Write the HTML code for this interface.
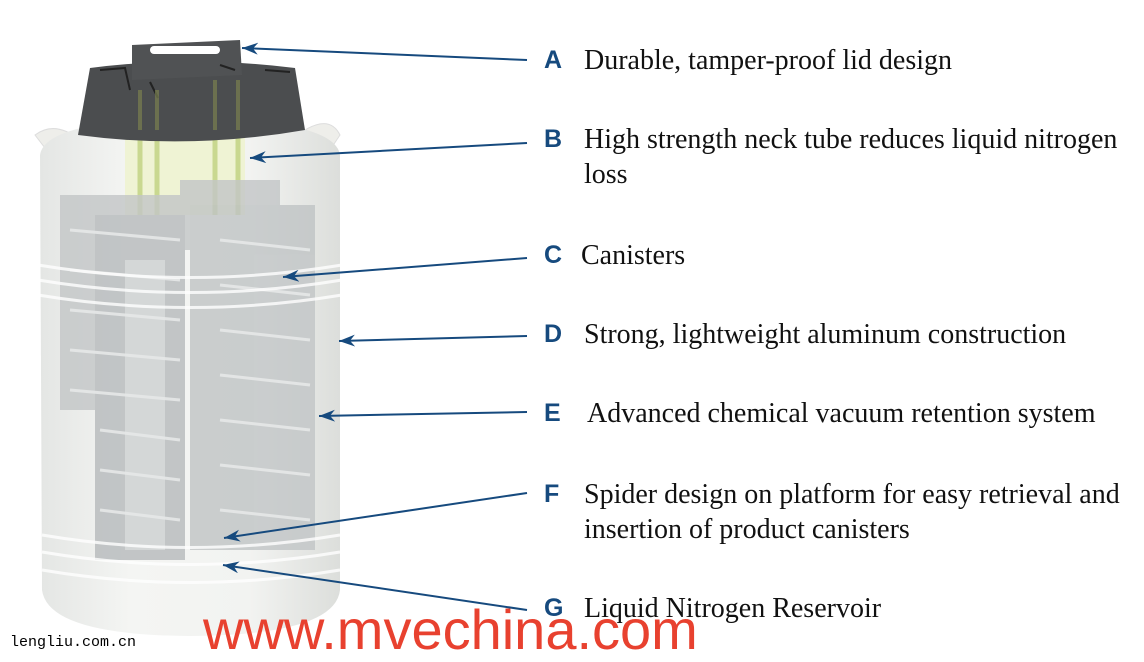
<!DOCTYPE html>
<html><head><meta charset="utf-8"><style>
html,body{margin:0;padding:0;background:#fff;}
body{width:1144px;height:662px;overflow:hidden;position:relative;}
.t{position:absolute;font-family:"Liberation Serif",serif;font-size:28px;color:#111;line-height:35px;white-space:nowrap;}
.l{position:absolute;font-family:"Liberation Sans",sans-serif;font-weight:bold;font-size:25px;color:#164a7e;}
</style></head><body>
<svg width="1144" height="662" style="position:absolute;left:0;top:0">
<defs>
<marker id="ar" markerWidth="16" markerHeight="12" refX="0" refY="6" orient="auto" markerUnits="userSpaceOnUse">
<path d="M0,6 L16,0 L11,6 L16,12 Z" fill="#164a7e"/></marker>
<linearGradient id="body" x1="0" x2="1"><stop offset="0" stop-color="#e4e6e4"/><stop offset="0.3" stop-color="#f4f5f3"/><stop offset="0.7" stop-color="#f2f3f1"/><stop offset="1" stop-color="#dcdedb"/></linearGradient>
</defs>
<path d="M35,135 Q55,120 80,140 L75,155 Q55,140 45,148 Z" fill="#eeeeea" stroke="#ddd"/>
<path d="M305,130 Q330,115 340,135 L330,150 Q320,135 308,142 Z" fill="#eeeeea" stroke="#ddd"/>
<path d="M40,155 Q45,120 190,118 Q335,120 340,155 L340,590 Q335,635 190,636 Q48,635 42,590 Z" fill="url(#body)"/>
<rect x="125" y="120" width="120" height="95" fill="#eef3d0" opacity="0.9"/>
<g stroke="#c9d890" stroke-width="5"><line x1="140" y1="90" x2="140" y2="215"/><line x1="157" y1="90" x2="157" y2="215"/><line x1="215" y1="90" x2="215" y2="215"/><line x1="238" y1="90" x2="238" y2="215"/></g>
<g fill="#c3c6c7" opacity="0.8">
<rect x="60" y="195" width="125" height="215"/>
<rect x="180" y="180" width="100" height="70"/>
<rect x="95" y="215" width="90" height="345" fill="#b6babc"/>
<rect x="190" y="205" width="125" height="345" fill="#c0c4c5"/>
<rect x="125" y="260" width="40" height="290" fill="#cdd0d1"/>
</g>
<g stroke="#e6e8e8" stroke-width="3" opacity="0.9">
<line x1="70" y1="230" x2="180" y2="240"/><line x1="70" y1="270" x2="180" y2="280"/><line x1="70" y1="310" x2="180" y2="320"/><line x1="70" y1="350" x2="180" y2="360"/><line x1="70" y1="390" x2="180" y2="400"/><line x1="100" y1="430" x2="180" y2="440"/><line x1="100" y1="470" x2="180" y2="480"/><line x1="100" y1="510" x2="180" y2="520"/>
<line x1="220" y1="240" x2="310" y2="250"/><line x1="220" y1="285" x2="310" y2="295"/><line x1="220" y1="330" x2="310" y2="340"/><line x1="220" y1="375" x2="310" y2="385"/><line x1="220" y1="420" x2="310" y2="430"/><line x1="220" y1="465" x2="310" y2="475"/><line x1="220" y1="510" x2="310" y2="520"/>
</g>
<g stroke="#ffffff" stroke-width="3" fill="none" opacity="0.8">
<path d="M38,265 Q190,290 342,265"/><path d="M38,280 Q190,305 342,280"/><path d="M38,295 Q190,320 342,295"/>
<path d="M42,535 Q190,560 340,535"/><path d="M42,552 Q190,577 340,552"/><path d="M42,570 Q190,595 340,570"/>
</g>
<path d="M78,135 L90,68 Q190,55 295,68 L305,130 Q190,150 78,135 Z" fill="#4b4d4f"/>
<path d="M132,45 L240,40 L242,75 L132,80 Z" fill="#505254"/>
<rect x="150" y="46" width="70" height="8" rx="4" fill="#fff"/>
<g stroke="#222" stroke-width="2" fill="none"><path d="M100,70 L125,68 L130,90"/><path d="M265,70 L290,72"/><path d="M150,82 L158,98"/><path d="M220,65 L235,70"/></g>
<g stroke="#7a8050" stroke-width="4" opacity="0.7"><line x1="140" y1="90" x2="140" y2="130"/><line x1="157" y1="90" x2="157" y2="130"/><line x1="215" y1="80" x2="215" y2="130"/><line x1="238" y1="80" x2="238" y2="130"/></g>
<g stroke="#164a7e" stroke-width="2" marker-start="url(#ar)">
<line x1="242" y1="48" x2="527" y2="60"/>
<line x1="250" y1="158" x2="527" y2="143"/>
<line x1="283" y1="277" x2="527" y2="258"/>
<line x1="339" y1="341" x2="527" y2="336"/>
<line x1="319" y1="416" x2="527" y2="412"/>
<line x1="224" y1="538" x2="527" y2="493"/>
<line x1="223" y1="565" x2="527" y2="610"/>
</g>
</svg>
<div class="l" style="left:544px;top:46px">A</div><div class="t" style="left:584px;top:43px">Durable, tamper-proof lid design</div>
<div class="l" style="left:544px;top:125px">B</div><div class="t" style="left:584px;top:122px">High strength neck tube reduces liquid nitrogen<br>loss</div>
<div class="l" style="left:544px;top:241px">C</div><div class="t" style="left:581px;top:238px">Canisters</div>
<div class="l" style="left:544px;top:320px">D</div><div class="t" style="left:584px;top:317px">Strong, lightweight aluminum construction</div>
<div class="l" style="left:544px;top:399px">E</div><div class="t" style="left:587px;top:396px">Advanced chemical vacuum retention system</div>
<div class="l" style="left:544px;top:480px">F</div><div class="t" style="left:584px;top:477px">Spider design on platform for easy retrieval and<br>insertion of product canisters</div>
<div class="l" style="left:544px;top:594px">G</div><div class="t" style="left:584px;top:591px">Liquid Nitrogen Reservoir</div>
<div style="position:absolute;left:203px;top:598px;font-family:'Liberation Sans',sans-serif;font-size:56px;color:#e8412f;line-height:64px">www.mvechina.com</div>
<div style="position:absolute;left:10px;top:634px;font-family:'Liberation Mono',monospace;font-size:15px;color:#000">lengliu.com.cn</div>
</body></html>
